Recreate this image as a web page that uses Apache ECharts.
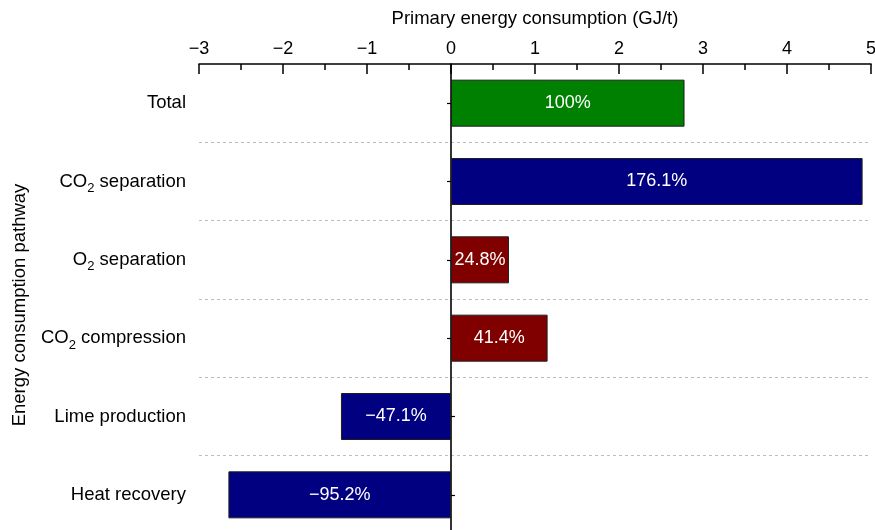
<!DOCTYPE html>
<html>
<head>
<meta charset="utf-8">
<script src="https://cdn.jsdelivr.net/npm/echarts@6/dist/echarts.min.js"></script>
<style>
html,body{margin:0;padding:0;background:#fff;}
#chart{width:875px;height:530px;}
</style>
</head>
<body>
<div id="chart"></div>
<script>
// ---- data ----
const categories = ['Total', 'CO2 separation', 'O2 separation', 'CO2 compression', 'Lime production', 'Heat recovery'];
const energyValues = [2.78, 4.90, 0.69, 1.15, -1.31, -2.65];
const shareLabels = ['100%', '176.1%', '24.8%', '41.4%', '\u221247.1%', '\u221295.2%'];
const xTicks = [-3, -2, -1, 0, 1, 2, 3, 4, 5];

// ---- styles ----
const FONT = 'Liberation Sans, Arial, Helvetica, sans-serif';
const BAR_COLORS = ['#008000', '#000080', '#800000', '#800000', '#000080', '#000080'];
const GRID_LEFT = 199, GRID_RIGHT = 4;
const PLOT_W = 875 - GRID_LEFT - GRID_RIGHT;

function catLabel(s) {
  const m = s.match(/^(C?O)2(.*)$/);
  if (m) return '{a|' + m[1] + '}{sub|2}{a|' + m[2] + '}';
  return '{a|' + s + '}';
}

const xMin = xTicks[0], xMax = xTicks[xTicks.length - 1];
const zeroOffset = -PLOT_W * (0 - xMin) / (xMax - xMin);

const chart = echarts.init(document.getElementById('chart'), null, {renderer: 'canvas'});
chart.setOption({
  animation: false,
  textStyle: {fontFamily: FONT, color: '#000'},
  grid: {left: GRID_LEFT, right: GRID_RIGHT, top: 64, bottom: -4, containLabel: false, outerBoundsMode: 'none'},
  xAxis: {
    type: 'value',
    position: 'top',
    z: 5,
    min: xMin,
    max: xMax,
    interval: 1,
    name: 'Primary energy consumption (GJ/t)',
    nameLocation: 'middle',
    nameGap: 36,
    nameMoveOverlap: false,
    nameTextStyle: {fontSize: 18.5, color: '#000', fontFamily: FONT},
    axisLine: {show: true, onZero: false, lineStyle: {color: '#000', width: 1.6}},
    axisTick: {show: true, inside: true, length: 10, lineStyle: {color: '#000', width: 1.5}},
    minorTick: {show: true, splitNumber: 2, length: 6, lineStyle: {color: '#000', width: 1.5}},
    axisLabel: {
      show: true,
      margin: 6, fontSize: 18, color: '#000', fontFamily: FONT,
      hideOverlap: false,
      formatter: v => (v < 0 ? '\u2212' + Math.abs(v) : String(v))
    },
    splitLine: {show: false}
  },
  yAxis: [
    {
      type: 'category',
      data: categories,
      inverse: true,
      position: 'left',
      name: 'Energy consumption pathway',
      nameLocation: 'middle',
      nameGap: 170,
      nameMoveOverlap: false,
      nameTextStyle: {fontSize: 18.5, color: '#000', fontFamily: FONT, padding: [0, 12, 0, 0]},
      axisLine: {show: false, onZero: false},
      axisTick: {show: false},
      axisLabel: {
        margin: 13,
        formatter: catLabel,
        rich: {
          a: {fontSize: 18.5, color: '#000', fontFamily: FONT, lineHeight: 22, verticalAlign: 'middle'},
          sub: {fontSize: 13, color: '#000', fontFamily: FONT, lineHeight: 13, padding: [14, 0, 0, 0], verticalAlign: 'middle'}
        }
      },
      splitLine: {show: true, showMinLine: false, lineStyle: {color: '#bdbdbd', width: 1, type: [3, 3]}}
    },
    {
      type: 'category',
      data: categories,
      inverse: true,
      position: 'left',
      offset: zeroOffset,
      axisLine: {show: true, onZero: false, lineStyle: {color: '#000', width: 1.6}},
      axisTick: {show: true, inside: false, length: 4, alignWithLabel: true, lineStyle: {color: '#000', width: 1.2}},
      axisLabel: {show: false},
      splitLine: {show: false}
    },
    {
      type: 'category',
      data: categories,
      inverse: true,
      position: 'left',
      offset: zeroOffset,
      axisLine: {show: false, onZero: false},
      axisTick: {show: true, inside: true, length: 4, alignWithLabel: true, lineStyle: {color: '#000', width: 1.2}},
      axisLabel: {show: false},
      splitLine: {show: false}
    }
  ],
  series: [{
    type: 'bar',
    yAxisIndex: 0,
    data: energyValues,
    barWidth: '60%',
    itemStyle: {
      color: p => BAR_COLORS[p.dataIndex],
      borderColor: '#1e1e1e',
      borderWidth: 1
    },
    label: {
      show: true,
      position: 'inside',
      color: '#fff',
      fontSize: 18,
      fontFamily: FONT,
      formatter: p => shareLabels[p.dataIndex]
    }
  }]
});
</script>
</body>
</html>
